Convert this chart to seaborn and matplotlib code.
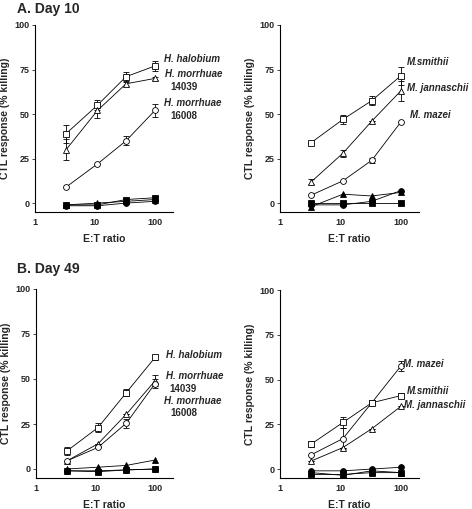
import numpy as np
import pandas as pd
import matplotlib
matplotlib.use("Agg")
import matplotlib.pyplot as plt
import seaborn as sns

sns.set_theme(style="ticks")
plt.rcParams['font.family'] = ['Liberation Sans', 'DejaVu Sans']
plt.rcParams['font.weight'] = 'bold'

et_ratio = [3.3, 11, 33, 100]

# Panel A left (Day 10, halobacteria)
a_hal = [39, 55, 71, 77];      a_hal_err = [5, 3, 2.5, 3]
a_m14 = [30, 52, 67, 70];      a_m14_err = [6, 4, 1, 1]
a_m16 = [9, 22, 35, 52];       a_m16_err = [0, 0, 2.5, 3.5]
a_c1 = [-1, -1, 2, 3]          # filled square
a_c2 = [-1, 0, 1, 2]           # filled triangle
a_c3 = [-1.5, -1.5, 0, 1]      # filled circle

# Panel A right (Day 10, methanogens)
ar_smi = [34, 47, 57.5, 71.5]; ar_smi_err = [0, 2.5, 2.5, 5]
ar_jan = [12, 28, 46, 63];     ar_jan_err = [1.5, 2, 0, 5.5]
ar_maz = [4.5, 12.5, 24, 45.5]; ar_maz_err = [0, 0, 1.5, 0]
ar_c1 = [0, 0, 0, 0]           # filled square
ar_c2 = [-2, 5, 4, 6]          # filled triangle
ar_c3 = [-1, -1, 1, 7]         # filled circle

# Panel B left (Day 49, halobacteria)
b_hal = [10, 23, 42.5, 62];    b_hal_err = [2, 2.5, 2, 1.5]
b_m14 = [4.5, 14, 30.5, 49];   b_m14_err = [0, 0, 0, 3]
b_m16 = [4.5, 12, 25.5, 47.5]; b_m16_err = [0, 0, 2.5, 2.5]
b_c1 = [-1, -1.5, -0.5, 0]     # filled square
b_c2 = [0, 1, 2, 5]            # filled triangle
b_c3 = [-1, -1, -0.5, 0]       # filled circle

# Panel B right (Day 49, methanogens)
br_maz = [8, 17, 37, 57.5];    br_maz_err = [0, 6, 1.5, 3]
br_smi = [14, 26, 37, 41];     br_smi_err = [1.5, 3, 1.5, 1.5]
br_jan = [4.5, 12, 22.5, 35];  br_jan_err = [0, 0, 0, 0]
br_c1 = [-3, -3, -2, -2]       # filled square
br_c2 = [-2, -3.5, -1, -2]     # filled triangle
br_c3 = [-1, -1, 0, 1]         # filled circle

y_ticks = [0, 25, 50, 75, 100]
x_ticks = [1, 10, 100]
x_ticklabels = ["1", "10", "100"]

fig = plt.figure(figsize=(4.72, 5.09), dpi=100)
axes_pos = [
    [35/472, 1-212/509, 138/472, 187/509],
    [280/472, 1-212/509, 139/472, 187/509],
    [36/472, 1-478/509, 137/472, 189/509],
    [280/472, 1-478/509, 139/472, 188/509],
]

def draw(ax, series, labels):
    for vals, err, marker, filled in series:
        df = pd.DataFrame({"x": et_ratio, "y": vals})
        sns.lineplot(data=df, x="x", y="y", ax=ax, color="black", lw=0.6,
                     marker=marker, markersize=4.2 if marker != 's' else 4.0,
                     markerfacecolor="black" if filled else "white",
                     markeredgecolor="black", markeredgewidth=0.6, zorder=3)
        if err is not None:
            ax.errorbar(et_ratio, vals, yerr=err, fmt='none', ecolor='black',
                        elinewidth=0.6, capsize=2, capthick=0.6, zorder=2)
    ax.set_xscale('log')
    ax.set_xlim(1, 200)
    ax.set_ylim(-5, 100)
    ax.set_yticks(y_ticks)
    ax.set_xticks(x_ticks)
    ax.set_xticklabels(x_ticklabels)
    ax.minorticks_off()
    ax.tick_params(axis='y', labelsize=6.5, length=2, width=0.6, pad=2)
    ax.tick_params(axis='x', labelsize=6.5, length=0, pad=4)
    for t in ax.get_xticklabels() + ax.get_yticklabels():
        t.set_fontweight('bold')
    ax.set_xlabel("E:T ratio", fontsize=7.5, fontweight='bold', labelpad=5)
    ax.set_ylabel("CTL response (% killing)", fontsize=7.5, fontweight='bold', labelpad=3)
    sns.despine(ax=ax)
    for s in ['left', 'bottom']:
        ax.spines[s].set_linewidth(0.8)
        ax.spines[s].set_color('black')
    for txt, x, y, style, ha in labels:
        ax.text(x, y, txt, fontsize=7, fontweight='bold', fontstyle=style,
                ha=ha, va='center', clip_on=False)

ax1 = fig.add_axes(axes_pos[0])
draw(ax1, [(a_hal, a_hal_err, 's', False), (a_m14, a_m14_err, '^', False),
           (a_m16, a_m16_err, 'o', False), (a_c1, None, 's', True),
           (a_c2, None, '^', True), (a_c3, None, 'o', True)],
     [("H. halobium", 140, 81, 'italic', 'left'),
      ("H. morrhuae", 145, 72.5, 'italic', 'left'),
      ("14039", 300, 65, 'normal', 'center'),
      ("H. morrhuae", 140, 56, 'italic', 'left'),
      ("16008", 300, 49, 'normal', 'center')])

ax2 = fig.add_axes(axes_pos[1])
draw(ax2, [(ar_smi, ar_smi_err, 's', False), (ar_jan, ar_jan_err, '^', False),
           (ar_maz, ar_maz_err, 'o', False), (ar_c1, None, 's', True),
           (ar_c2, None, '^', True), (ar_c3, None, 'o', True)],
     [("M.smithii", 125, 79, 'italic', 'left'),
      ("M. jannaschii", 125, 64.5, 'italic', 'left'),
      ("M. mazei", 140, 49.5, 'italic', 'left')])

ax3 = fig.add_axes(axes_pos[2])
draw(ax3, [(b_hal, b_hal_err, 's', False), (b_m14, b_m14_err, '^', False),
           (b_m16, b_m16_err, 'o', False), (b_c1, None, 's', True),
           (b_c2, None, '^', True), (b_c3, None, 'o', True)],
     [("H. halobium", 150, 63.5, 'italic', 'left'),
      ("H. morrhuae", 150, 51.5, 'italic', 'left'),
      ("14039", 300, 44.5, 'normal', 'center'),
      ("H. morrhuae", 140, 38, 'italic', 'left'),
      ("16008", 300, 31, 'normal', 'center')])

ax4 = fig.add_axes(axes_pos[3])
draw(ax4, [(br_maz, br_maz_err, 'o', False), (br_smi, br_smi_err, 's', False),
           (br_jan, br_jan_err, '^', False), (br_c1, None, 's', True),
           (br_c2, None, '^', True), (br_c3, None, 'o', True)],
     [("M. mazei", 110, 58.5, 'italic', 'left'),
      ("M.smithii", 125, 43.5, 'italic', 'left'),
      ("M. jannaschii", 115, 35.5, 'italic', 'left')])

fig.text(17/472, 1-9/509, "A. Day 10", fontsize=10, fontweight='bold', va='center', ha='left')
fig.text(17/472, 1-269/509, "B. Day 49", fontsize=10, fontweight='bold', va='center', ha='left')

fig.savefig("out.png", dpi=100)
